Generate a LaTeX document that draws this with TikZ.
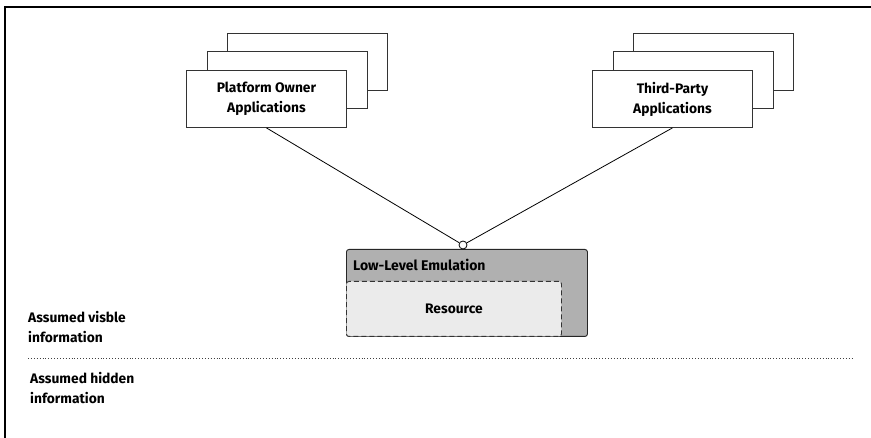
\documentclass[tikz,border=0pt]{standalone}
\usepackage{fontspec}
\setmainfont{Fira Sans}
\begin{document}
\begin{tikzpicture}[x=1pt,y=-1pt,
  appbox/.style={draw=black!80,fill=white,line width=0.9pt,minimum width=160pt,minimum height=57pt,anchor=north west,inner sep=0pt},
  lbl/.style={font=\fontsize{13.8}{20}\selectfont\bfseries,align=center},
  sidelbl/.style={font=\fontsize{13.8}{20}\selectfont\bfseries,align=left,anchor=north west,inner sep=0pt},
  conn/.style={draw=black,line width=0.8pt}]
\useasboundingbox (0,0) rectangle (871,438);
% frame
\draw[line width=1.4pt] (5,438) -- (5,7) -- (871,7);
% platform owner stack
\node[appbox] (p3) at (227,33) {};
\node[appbox] (p2) at (207,51) {};
\node[appbox,lbl] (p1) at (186,70) {Platform Owner\\Applications};
% third party stack
\node[appbox] (t3) at (633,33) {};
\node[appbox] (t2) at (613,51) {};
\node[appbox,lbl] (t1) at (592,70) {Third-Party\\Applications};
% emulation
\node[draw=black!85,fill=black!31,rounded corners=2.5pt,line width=0.9pt,minimum width=241pt,minimum height=87pt,anchor=north west,inner sep=0pt] (emu) at (346,249) {};
\node[font=\fontsize{14}{16}\selectfont\bfseries,anchor=west,inner sep=0pt] (emul) at (353,265) {Low-Level Emulation};
\node[draw=black!80,dashed,dash pattern=on 5pt off 3pt,fill=black!8,rounded corners=2.5pt,line width=0.9pt,minimum width=215pt,minimum height=55pt,anchor=north west,inner sep=0pt,lbl] (res) at (346,281) {Resource};
\node[circle,draw=black,fill=white,line width=0.8pt,minimum size=8pt,inner sep=0pt] (port) at (463,245) {};
\draw[conn] (p1.south) -- (port);
\draw[conn] (t1.south) -- (port);
% separator
\coordinate (sl) at (28,358);
\coordinate (sr) at (852,358);
\draw[dotted,line width=0.9pt,black!75] (sl) -- (sr);
\node[sidelbl] (vis) at (28,311) {Assumed visble\\information};
\node[sidelbl] (hid) at (30,372) {Assumed hidden\\information};
\end{tikzpicture}
\end{document}
